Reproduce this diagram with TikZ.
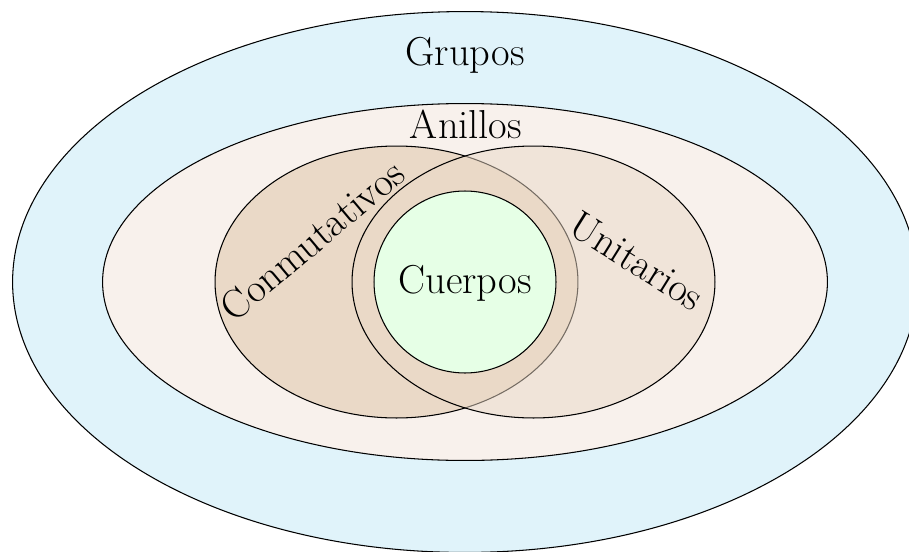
\documentclass[tikz,border=0pt]{standalone}
\definecolor{cgrupos}{RGB}{224,243,250}
\definecolor{canillos}{RGB}{248,241,236}
\definecolor{cconm}{RGB}{234,217,199}
\definecolor{ccuerpos}{RGB}{230,255,230}
\begin{document}
\begin{tikzpicture}[x=0.02cm,y=-0.02cm,
  lbl/.style={font=\fontsize{23}{27}\selectfont,inner sep=0pt},
  setline/.style={draw=black,line width=0.6pt}]
\useasboundingbox (0,0) rectangle (909,551);
\clip (0,0) rectangle (909,551);
\coordinate (c) at (465,282);
\coordinate (cl) at (396.5,282);
\coordinate (cr) at (533.5,282);
\fill[cgrupos,setline] (c) ellipse [x radius=9.05cm, y radius=5.41cm];
\fill[canillos,setline] (c) ellipse [x radius=7.25cm, y radius=3.57cm];
\fill[cconm,setline] (cl) ellipse [x radius=3.63cm, y radius=2.72cm];
\fill[cconm,fill opacity=0.5,setline] (cr) ellipse [x radius=3.63cm, y radius=2.72cm];
\fill[ccuerpos,setline] (c) circle [radius=1.82cm];
\node[lbl] (grupos) at (465,55) {Grupos};
\node[lbl] (anillos) at (466,124) {Anillos};
\node[lbl] (cuerpos) at (465,283) {Cuerpos};
\node[lbl,rotate=40] (conm) at (312,240) {Conmutativos};
\node[lbl,rotate=-32] (unit) at (637,261) {Unitarios};
\end{tikzpicture}
\end{document}
